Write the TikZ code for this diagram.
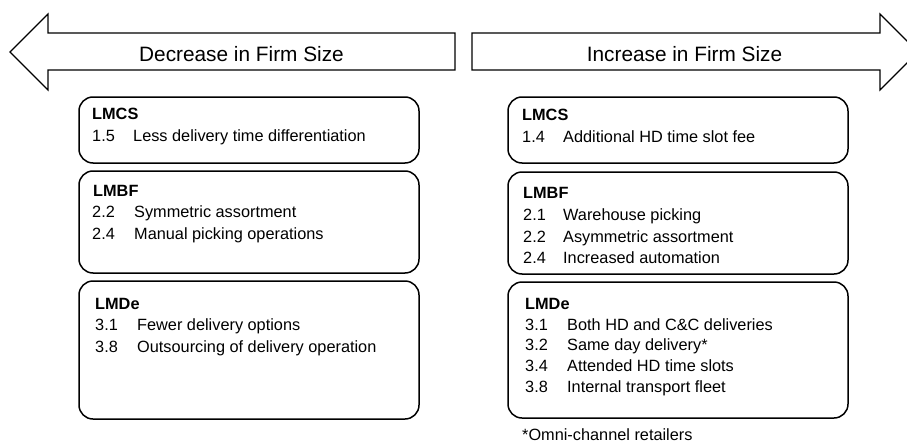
\documentclass[tikz,border=0pt]{standalone}
\usepackage{fontspec}
\setmainfont{Liberation Sans}
\tikzset{
  box/.style={draw, line width=1.5pt, rounded corners=14pt, minimum width=340pt},
  sizearrow/.style={draw, line width=1.2pt, line join=miter},
  arrowtext/.style={font=\fontsize{20.8}{24}\selectfont},
  head/.style={anchor=base west, inner sep=0pt, font=\fontsize{16.3}{19}\selectfont\bfseries},
  item/.style={anchor=base west, inner sep=0pt, font=\fontsize{16.3}{19}\selectfont}
}
\begin{document}
\begin{tikzpicture}[x=1pt,y=-1pt]
\useasboundingbox (0,0) rectangle (907,444);

\draw[sizearrow] (455,33) -- (48,33) -- (48,14) -- (10,52) -- (48,90) -- (48,70) -- (455,70) -- cycle;
\draw[sizearrow] (472,33) -- (880,33) -- (880,14) -- (918,52) -- (880,90) -- (880,70) -- (472,70) -- cycle;
\node[arrowtext] (dec) at (241.5,54) {Decrease in Firm Size};
\node[arrowtext] (inc) at (684.5,54) {Increase in Firm Size};

\node[box, minimum height=66pt] (lmcsL) at (249,130) {};
\node[box, minimum height=102pt] (lmbfL) at (249,222) {};
\node[box, minimum height=138pt] (lmdeL) at (249,350) {};
\node[box, minimum height=66pt] (lmcsR) at (678,130) {};
\node[box, minimum height=102pt] (lmbfR) at (678,223) {};
\node[box, minimum height=136pt] (lmdeR) at (678,350) {};

\node[head] (hcsL) at (92,119) {LMCS};
\node[item] (n15) at (92,141) {1.5};
\node[item] (t15) at (133,141) {Less delivery time differentiation};

\node[head] (hbfL) at (93,196) {LMBF};
\node[item] (n22L) at (92,217) {2.2};
\node[item] (t22L) at (134,217) {Symmetric assortment};
\node[item] (n24L) at (92,239) {2.4};
\node[item] (t24L) at (134,239) {Manual picking operations};

\node[head] (hdeL) at (95,309) {LMDe};
\node[item] (n31L) at (95,330) {3.1};
\node[item] (t31L) at (137,330) {Fewer delivery options};
\node[item] (n38L) at (95,352) {3.8};
\node[item] (t38L) at (137,352) {Outsourcing of delivery operation};

\node[head] (hcsR) at (522,120) {LMCS};
\node[item] (n14) at (522,142) {1.4};
\node[item] (t14) at (563,142) {Additional HD time slot fee};

\node[head] (hbfR) at (523,198) {LMBF};
\node[item] (n21R) at (523,220) {2.1};
\node[item] (t21R) at (563,220) {Warehouse picking};
\node[item] (n22R) at (523,242) {2.2};
\node[item] (t22R) at (563,242) {Asymmetric assortment};
\node[item] (n24R) at (523,263) {2.4};
\node[item] (t24R) at (563,263) {Increased automation};

\node[head] (hdeR) at (525,309) {LMDe};
\node[item] (n31R) at (525,330) {3.1};
\node[item] (t31R) at (567,330) {Both HD and C\&C deliveries};
\node[item] (n32R) at (525,350) {3.2};
\node[item] (t32R) at (567,350) {Same day delivery*};
\node[item] (n34R) at (525,371) {3.4};
\node[item] (t34R) at (567,371) {Attended HD time slots};
\node[item] (n38R) at (525,392) {3.8};
\node[item] (t38R) at (567,392) {Internal transport fleet};

\node[item] (note) at (522,440) {*Omni-channel retailers};
\end{tikzpicture}
\end{document}
